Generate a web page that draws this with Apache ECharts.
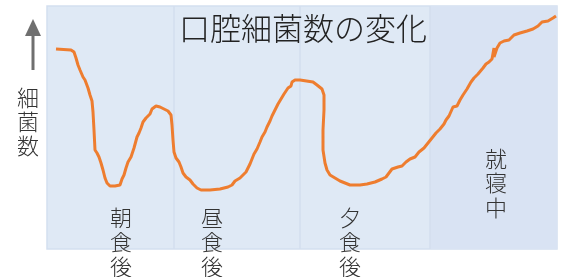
<!DOCTYPE html>
<html><head><meta charset="utf-8">
<script src="https://cdn.jsdelivr.net/npm/echarts@6/dist/echarts.min.js"></script>
<style>html,body{margin:0;padding:0;background:#fff}#c{width:567px;height:277px}</style>
</head><body><div id="c"></div>
<script>
const title = '口腔細菌数の変化';
const yAxisLabel = '細菌数';
const periodLabels = ['朝食後', '昼食後', '夕食後', '就寝中'];
const periodLabelX = [74, 165, 303, 449];
const dividers = [127, 253, 383];
const nightRange = [383, 510];
const timeVals = [9,24,27,29,31,33,36,38,41,43,45,46,47,48,50,52,54,56,58,60,63,68,73,75,77,79,81,84,87,90,92,94,96,99,103,105,109,113,117,121,124,125,126,127,129,132,134,136,139,143,146,150,154,163,173,181,185,188,193,196,199,201,203,205,207,210,213,215,218,220,223,225,228,231,234,237,239,241,244,245,248,253,266,270,275,277,277,276,276,278,280,283,288,293,303,313,320,328,335,339,342,345,351,355,359,363,368,372,377,381,385,389,393,397,399,402,406,410,413,416,420,424,427,431,436,439,442,445,447,447,450,453,457,462,467,473,480,486,491,495,501,506,509];
const bacteria = [200,199,197,191,184,179,172,169,161,154,148,137,119,99,96,92,86,79,71,66,63,63,64,70,74,81,87,92,101,112,116,121,127,131,135,140,143,142,140,138,134,124,109,97,91,87,82,76,72,69,65,61,59,59,60,62,64,68,71,74,77,81,85,90,95,100,107,112,117,122,128,133,139,145,150,155,158,161,163,167,169,169,167,164,160,154,139,119,99,86,79,74,71,68,64,64,65,67,70,72,76,80,82,83,87,90,92,97,101,106,111,116,120,125,129,133,142,143,149,154,160,167,171,175,181,185,187,190,201,192,201,206,208,209,214,216,218,220,223,227,228,231,233];

const chart = echarts.init(document.getElementById('c'), null, {renderer: 'canvas'});
const FONT = '"Noto Sans CJK JP", "Noto Sans", sans-serif';
const data = timeVals.map((t, i) => [t, bacteria[i]]);
const vText = s => s.split('').join('\n');
const labelYs = [205, 205, 205, 146];

chart.setOption({
  animation: false,
  backgroundColor: '#ffffff',
  title: {
    text: title, left: 174, top: 8,
    textStyle: {fontFamily: FONT, fontSize: 31, fontWeight: 300, color: '#222'}
  },
  grid: {left: 47, top: 6, width: 510, height: 243, show: true,
         backgroundColor: '#dfe9f5', borderColor: '#d4dff0', borderWidth: 1.5},
  xAxis: {type: 'value', min: 0, max: 510, show: false},
  yAxis: {type: 'value', min: 0, max: 243, show: false},
  series: [{
    type: 'line', data: data, showSymbol: false, smooth: false, z: 5,
    lineStyle: {color: '#ee7d2f', width: 3},
    markArea: {silent: true, itemStyle: {color: '#d9e3f3'},
      data: [[{xAxis: nightRange[0]}, {xAxis: nightRange[1]}]]},
    markLine: {silent: true, symbol: 'none', label: {show: false},
      lineStyle: {color: '#d3deee', width: 1.5, type: 'solid'},
      data: dividers.map(d => ({xAxis: d}))}
  }],
  graphic: [
    {type: 'line', shape: {x1: 33, y1: 70, x2: 33, y2: 32}, style: {stroke: '#6f6f6f', lineWidth: 3}},
    {type: 'polygon', shape: {points: [[25, 36], [41, 36], [33, 19]]}, style: {fill: '#6f6f6f'}},
    {type: 'text', x: 28, y: 86, style: {text: vText(yAxisLabel), font: '300 22px ' + FONT, fill: '#333',
      align: 'center', lineHeight: 24}},
  ].concat(periodLabels.map((s, i) => ({
    type: 'text', x: 47 + periodLabelX[i], y: labelYs[i], z: 10,
    style: {text: vText(s), font: '300 22px ' + FONT, fill: '#333', align: 'center', lineHeight: 24.5}
  })))
});
</script></body></html>
